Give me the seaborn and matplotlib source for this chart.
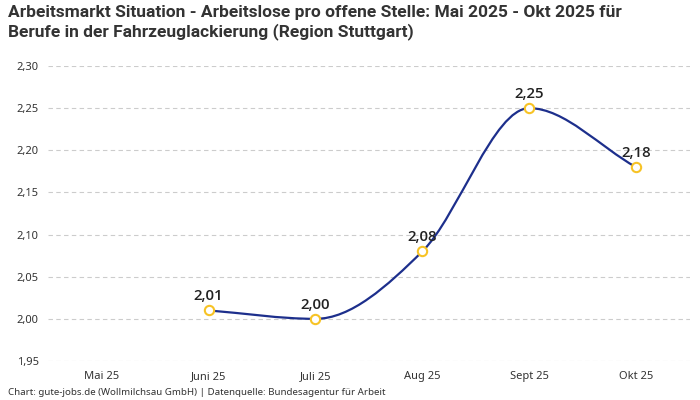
import numpy as np
import pandas as pd
import matplotlib
matplotlib.use("Agg")
import matplotlib.pyplot as plt
import seaborn as sns
from matplotlib.path import Path
from matplotlib.patches import PathPatch
from matplotlib.ticker import FuncFormatter

months = ["Mai 25", "Juni 25", "Juli 25", "Aug 25", "Sept 25", "Okt 25"]
values = [np.nan, 2.01, 2.00, 2.08, 2.25, 2.18]

LINE = "#1d2f8c"
DOT = "#f7c326"

sns.set_theme(style="white")
plt.rcParams["font.family"] = ["Noto Sans", "DejaVu Sans"]

df = pd.DataFrame({"month": months, "value": values})
df["pos"] = np.arange(len(months))
valid = df.dropna()

fig = plt.figure(figsize=(7, 4), dpi=100)
ax = fig.add_axes([0.069, 0.0975, 0.916, 0.7375])


def monotone_path(xs, ys):
    # monotone cubic (Fritsch-Carlson) as bezier segments
    xs = np.asarray(xs, float)
    ys = np.asarray(ys, float)
    n = len(xs)
    d = np.diff(ys) / np.diff(xs)
    m = np.zeros(n)
    m[0], m[-1] = d[0], d[-1]
    for i in range(1, n - 1):
        m[i] = 0 if d[i - 1] * d[i] <= 0 else (d[i - 1] + d[i]) / 2
    for i in range(n - 1):
        if d[i] == 0:
            m[i] = m[i + 1] = 0
            continue
        a, b = m[i] / d[i], m[i + 1] / d[i]
        s = a * a + b * b
        if s > 9:
            t = 3 / np.sqrt(s)
            m[i], m[i + 1] = t * a * d[i], t * b * d[i]
    verts = [(xs[0], ys[0])]
    codes = [Path.MOVETO]
    for i in range(n - 1):
        h = (xs[i + 1] - xs[i]) / 3
        verts += [(xs[i] + h, ys[i] + m[i] * h),
                  (xs[i + 1] - h, ys[i + 1] - m[i + 1] * h),
                  (xs[i + 1], ys[i + 1])]
        codes += [Path.CURVE4] * 3
    return Path(verts, codes)


ax.add_patch(PathPatch(monotone_path(valid["pos"], valid["value"]),
                       facecolor="none", edgecolor=LINE, lw=1.6, zorder=2))
sns.scatterplot(data=valid, x="pos", y="value", ax=ax, s=45, color="white",
                edgecolor=DOT, linewidth=1.5, zorder=3, legend=False)

for _, r in valid.iterrows():
    ax.annotate(f"{r['value']:.2f}".replace(".", ","), (r["pos"], r["value"]),
                xytext=(0, 5), textcoords="offset points", ha="center",
                va="bottom", fontsize=10.8, fontweight="semibold", color="#222222",
                family=["Open Sans", "DejaVu Sans"])

ax.set_xlim(-0.5, 5.5)
ax.set_ylim(1.95, 2.30)
ax.set_yticks(np.arange(1.95, 2.3001, 0.05))
ax.yaxis.set_major_formatter(FuncFormatter(lambda v, p: f"{v:.2f}".replace(".", ",")))
ax.set_xticks(df["pos"])
ax.set_xticklabels(months)
ax.tick_params(axis="both", length=0, labelsize=8, colors="#333333", pad=7)
ax.set_xlabel("")
ax.set_ylabel("")
ax.grid(axis="y", color="#cccccc", linestyle=(0, (4, 3)), linewidth=0.8)
ax.grid(axis="x", visible=False)
ax.set_axisbelow(True)
for s in ax.spines.values():
    s.set_visible(False)

fig.text(0.012, 0.988, "Arbeitsmarkt Situation - Arbeitslose pro offene Stelle: Mai 2025 - Okt 2025 für\n"
         "Berufe in der Fahrzeuglackierung (Region Stuttgart)",
         ha="left", va="top", fontsize=12.5, fontweight="bold", color="#333333",
         linespacing=1.25, family=["Roboto", "DejaVu Sans"])
fig.text(0.012, 0.008, "Chart: gute-jobs.de (Wollmilchsau GmbH) | Datenquelle: Bundesagentur für Arbeit",
         ha="left", va="bottom", fontsize=7, color="#333333")

fig.savefig("out.png", dpi=100)
